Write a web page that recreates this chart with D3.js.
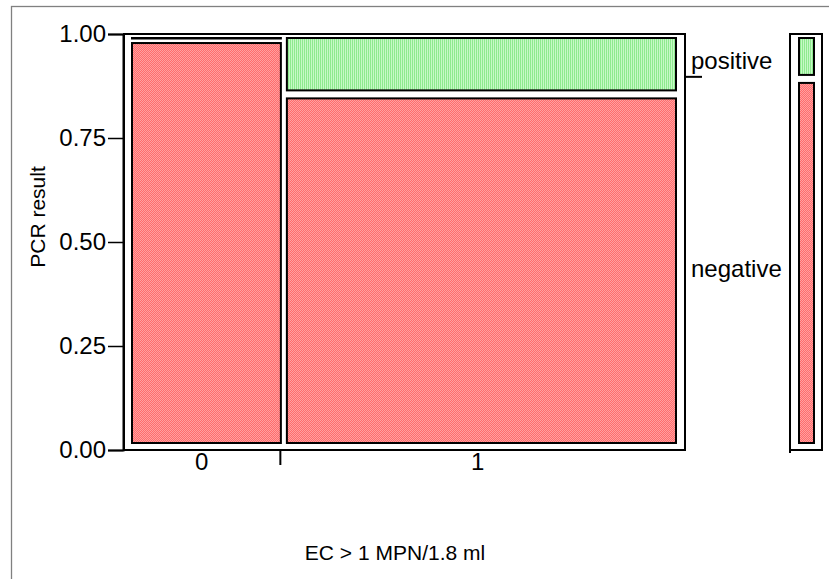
<!DOCTYPE html>
<html><head><meta charset="utf-8">
<script src="https://cdn.jsdelivr.net/npm/d3@7/dist/d3.min.js"></script>
<style>body{margin:0;background:#fff}svg{display:block;font-family:"Liberation Sans",Arial,Helvetica,sans-serif}</style>
</head><body><svg id="c" width="829" height="579"></svg>
<script>
// ---- data ----
const groups = ["0", "1"];                  // EC > 1 MPN/1.8 ml
const groupShare = [0.28, 0.72];            // column widths
const levels = ["negative", "positive"];    // PCR result (bottom to top)
const negativeShare = [0.995, 0.859];       // negative share within each group
const positiveShare = [0.005, 0.141];
const overallShare = [0.897, 0.103];        // marginal: negative, positive
const yTicks = [0, 0.25, 0.5, 0.75, 1];
const yTickLabels = ["0.00", "0.25", "0.50", "0.75", "1.00"];
const xTitle = "EC > 1 MPN/1.8 ml";
const yTitle = "PCR result";

// ---- drawing ----
const svg = d3.select("#c");
const defs = svg.append("defs");
function pat(id, a, b, vertical) {
  const p = defs.append("pattern").attr("id", id).attr("patternUnits", "userSpaceOnUse")
    .attr("width", 2).attr("height", 2);
  p.append("rect").attr("width", 2).attr("height", 2).attr("fill", a);
  if (vertical) p.append("rect").attr("x", 1).attr("width", 1).attr("height", 2).attr("fill", b);
  else {
    p.append("rect").attr("width", 1).attr("height", 1).attr("fill", b);
    p.append("rect").attr("x", 1).attr("y", 1).attr("width", 1).attr("height", 1).attr("fill", b);
  }
}
pat("pRed", "#ff6c6c", "#ffa0a0", false);
pat("pGreen", "#8eea8e", "#c6f9c6", true);
const fills = { negative: "url(#pRed)", positive: "url(#pGreen)" };
const tickFont = 24, titleFont = 21;

// outer figure border
svg.append("rect").attr("x", 11.5).attr("y", 6.5).attr("width", 900).attr("height", 700)
  .attr("fill", "none").attr("stroke", "#808080").attr("stroke-width", 1.3);

const xAxisS = d3.scaleLinear().domain([0, 1]).range([123, 685]);
const yAxisS = d3.scaleLinear().domain([0, 1]).range([450, 34]);
const xCell = d3.scaleLinear().domain([0, 1]).range([131, 677]);
const yCell = d3.scaleLinear().domain([0, 1]).range([444, 37]);

// cumulative column positions
const cum = [0];
groupShare.forEach((g, i) => cum.push(cum[i] + g));

// frame
svg.append("rect").attr("x", xAxisS(0) + 1).attr("y", yAxisS(1)).attr("width", xAxisS(1) - xAxisS(0) - 1)
  .attr("height", yAxisS(0) - yAxisS(1)).attr("fill", "none").attr("stroke", "#000").attr("stroke-width", 2);

// y axis
const yAxisG = svg.append("g").attr("transform", `translate(${xAxisS(0)},0)`)
  .call(d3.axisLeft(yAxisS).tickValues(yTicks).tickFormat((d, i) => yTickLabels[i]).tickSize(15).tickPadding(2));
yAxisG.select(".domain").attr("stroke", "#000").attr("stroke-width", 2);
yAxisG.selectAll(".tick line").attr("stroke", "#000").attr("stroke-width", 1.5);
yAxisG.selectAll(".tick text").attr("font-size", tickFont).attr("fill", "#000")
  .attr("font-family", "Liberation Sans, Arial, sans-serif");

// x axis: boundary tick and category labels
const xAxisG = svg.append("g").attr("transform", `translate(0,${yAxisS(0)})`);
cum.slice(1, -1).forEach(c => {
  xAxisG.append("line").attr("x1", xAxisS(c)).attr("x2", xAxisS(c)).attr("y1", 0).attr("y2", 15)
    .attr("stroke", "#000").attr("stroke-width", 2);
});
groups.forEach((g, i) => {
  xAxisG.append("text").attr("x", xAxisS((cum[i] + cum[i + 1]) / 2) - (i > 0 ? 5 : 0)).attr("y", 20)
    .attr("text-anchor", "middle").attr("font-size", tickFont).attr("fill", "#000").text(g);
});

// cells
const shares = [negativeShare, positiveShare];
groups.forEach((g, gi) => {
  const xl = xCell(cum[gi]) + (gi > 0 ? 2 : 0);
  const xr = xCell(cum[gi + 1]) - (gi < groups.length - 1 ? 2 : 0);
  let base = 0;
  levels.forEach((lv, li) => {
    const p0 = base, p1 = base + shares[li][gi];
    base = p1;
    const top = yCell(p1) + (p1 < 0.9999 ? 3 : 0);
    const bot = yCell(p0) - (p0 > 0 ? 3 : 0);
    svg.append("rect").attr("x", xl + 1).attr("y", top + 1)
      .attr("width", xr - xl - 2).attr("height", Math.max(0.5, bot - top - 2))
      .attr("fill", fills[lv]).attr("stroke", "#000").attr("stroke-width", 2);
  });
});

// right label axis
const splitY = yAxisS(overallShare[0]);
svg.append("line").attr("x1", xAxisS(1)).attr("x2", xAxisS(1) + 17).attr("y1", splitY).attr("y2", splitY)
  .attr("stroke", "#000").attr("stroke-width", 2);
let cb = 0;
levels.forEach((lv, li) => {
  const a = cb, b = cb + overallShare[li]; cb = b;
  svg.append("text").attr("x", xAxisS(1) + 6).attr("y", (yAxisS(a) + yAxisS(b)) / 2 + 14)
    .attr("font-size", tickFont).attr("fill", "#000").text(lv);
});

// marginal bar
const mx0 = 790, mx1 = 822;
svg.append("path").attr("d", `M${mx0},${yAxisS(0) + 3}V${yAxisS(1)}H${mx1}V${yAxisS(0)}H${mx0}`)
  .attr("fill", "none").attr("stroke", "#000").attr("stroke-width", 2);
cb = 0;
levels.forEach((lv, li) => {
  const p0 = cb, p1 = cb + overallShare[li]; cb = p1;
  const top = yCell(p1) + (p1 < 0.9999 ? 3 : 0);
  const bot = yCell(p0) - (p0 > 0 ? 3 : 0);
  svg.append("rect").attr("x", mx0 + 9).attr("y", top + 1).attr("width", 15).attr("height", bot - top - 2)
    .attr("fill", fills[lv]).attr("stroke", "#000").attr("stroke-width", 2);
});

// titles
svg.append("text").attr("x", 395).attr("y", 560).attr("text-anchor", "middle")
  .attr("font-size", titleFont).attr("fill", "#000").text(xTitle);
svg.append("text").attr("transform", "translate(45,217) rotate(-90)")
  .attr("text-anchor", "middle").attr("font-size", titleFont).attr("fill", "#000").text(yTitle);
</script></body></html>
